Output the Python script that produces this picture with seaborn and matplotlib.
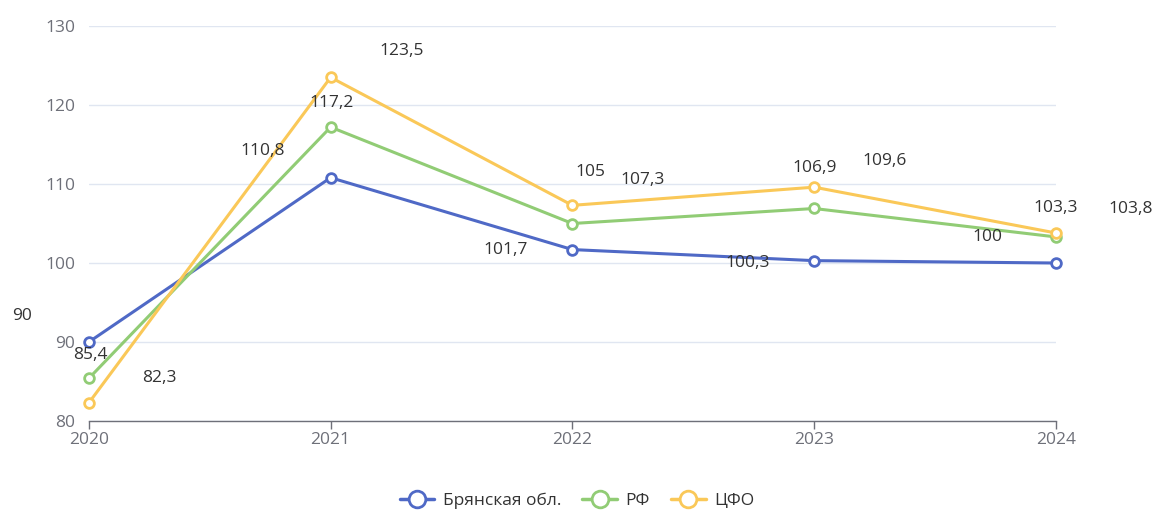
import pandas as pd
import numpy as np
import seaborn as sns
import matplotlib.pyplot as plt
from matplotlib.lines import Line2D

# данные
years = [2020, 2021, 2022, 2023, 2024]
series_names = ['Брянская обл.', 'РФ', 'ЦФО']
bryansk = [90, 110.8, 101.7, 100.3, 100]
rf = [85.4, 117.2, 105, 106.9, 103.3]
cfo = [82.3, 123.5, 107.3, 109.6, 103.8]

colors = ['#4f69c6', '#91cc75', '#fac858']

# смещения подписей (в пикселях) - как в оригинале
label_offsets = {
    'Брянская обл.': [(-67, 26), (-68, 27), (-67, 0), (-66, -2), (-68, 26)],
    'РФ': [(2, 23), (1, 24), (18, 52), (0, 40), (0, 29)],
    'ЦФО': [(71, 25), (71, 26), (70, 25), (70, 26), (75, 24)],
}

df = pd.DataFrame({
    'year': years * 3,
    'value': bryansk + rf + cfo,
    'series': [s for s in series_names for _ in years],
})

sns.set_theme(style='white')
plt.rcParams['font.family'] = ['Open Sans', 'DejaVu Sans']

fig = plt.figure(figsize=(11.54, 5.15), dpi=100)
ax = fig.add_axes([0.077, 0.1825, 0.838, 0.767])

sns.lineplot(data=df, x='year', y='value', hue='series', hue_order=series_names,
             palette=colors, linewidth=2.2, marker='o', markersize=7,
             legend=False, ax=ax, zorder=3)

# полые маркеры
for line in ax.get_lines():
    c = line.get_color()
    line.set_markerfacecolor('white')
    line.set_markeredgecolor(c)
    line.set_markeredgewidth(2)
    line.set_clip_on(False)

# подписи значений
for name, color in zip(series_names, colors):
    vals = df[df['series'] == name]['value'].tolist()
    for x, v, off in zip(years, vals, label_offsets[name]):
        txt = f'{v:g}'.replace('.', ',')
        ax.annotate(txt, (x, v), xytext=off, textcoords='offset pixels',
                    ha='center', va='center', fontsize=12.5, color='#333333',
                    zorder=5)

ax.set_xlim(2020, 2024)
ax.set_ylim(80, 130)
ax.set_xticks(years)
ax.set_yticks(range(80, 131, 10))
ax.set_xlabel('')
ax.set_ylabel('')

ax.grid(axis='y', color='#e0e6f1', linewidth=1)
ax.set_axisbelow(True)
for side in ['top', 'right', 'left']:
    ax.spines[side].set_visible(False)
ax.spines['bottom'].set_color('#6e7079')
ax.spines['bottom'].set_linewidth(1)
ax.tick_params(axis='x', bottom=True, colors='#6e7079', labelsize=12.5,
               length=6, width=1, direction='out', pad=2)
ax.tick_params(axis='y', left=False, colors='#6e7079', labelsize=12.5,
               length=0, pad=10)

# легенда
handles = [Line2D([0], [0], color=c, linewidth=2.5, marker='o', markersize=12,
                  markerfacecolor='white', markeredgewidth=2) for c in colors]
fig.legend(handles, series_names, loc='center', bbox_to_anchor=(0.5, 0.028),
           ncol=3, frameon=False, fontsize=12.5, handlelength=2.0,
           columnspacing=1.2, handletextpad=0.5, labelcolor='#333333')

fig.savefig('out.png', dpi=100)
